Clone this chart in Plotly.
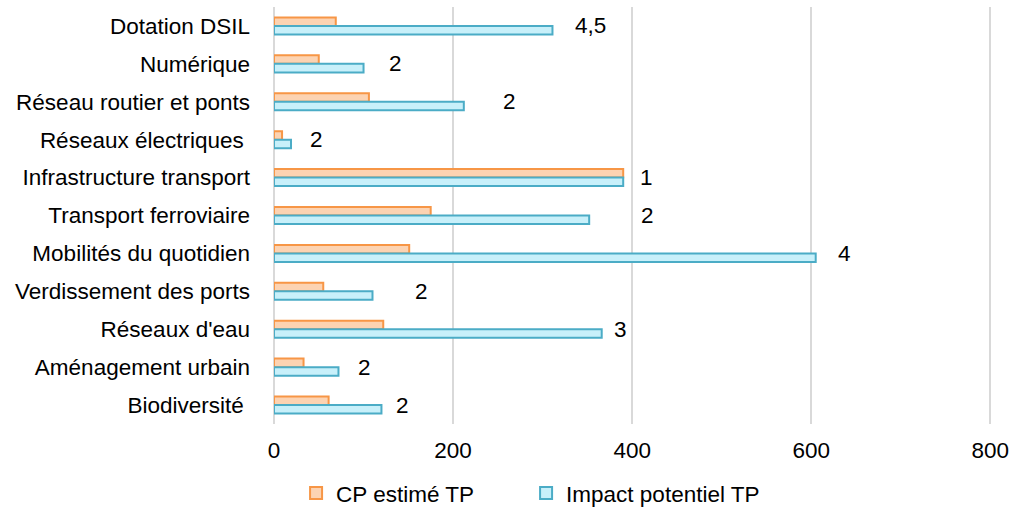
import plotly.graph_objects as go

categories = ["Dotation DSIL", "Numérique", "Réseau routier et ponts", "Réseaux électriques\u00a0",
              "Infrastructure transport", "Transport ferroviaire", "Mobilités du quotidien",
              "Verdissement des ports", "Réseaux d'eau", "Aménagement urbain", "Biodiversité\u00a0"]
cp_estime = [69, 50, 106, 9, 390, 175, 151, 55, 122, 33, 61]
impact_potentiel = [311, 100, 212, 19, 390, 352, 605, 110, 366, 72, 120]
label_text = ["4,5", "2", "2", "2", "1", "2", "4", "2", "3", "2", "2"]
label_x = [353, 136, 263, 48, 416, 417, 637, 165, 387, 101, 144]
x_ticks = [0, 200, 400, 600, 800]

FONT = "Liberation Sans"
FS = 22.5

fig = go.Figure()
fig.add_trace(go.Bar(y=categories, x=cp_estime, orientation="h", name="CP estimé TP",
                     legend="legend",
                     marker=dict(color="#FCD3B2", line=dict(color="#F79646", width=2))))
fig.add_trace(go.Bar(y=categories, x=impact_potentiel, orientation="h", name="Impact potentiel TP",
                     legend="legend2",
                     marker=dict(color="#C8F0FA", line=dict(color="#4BACC6", width=2))))

for c, t, lx in zip(categories, label_text, label_x):
    fig.add_annotation(x=lx, y=c, text=t, showarrow=False, xanchor="center", yanchor="middle",
                       font=dict(family=FONT, size=FS, color="#000000"))

leg_common = dict(orientation="h", y=-0.1665, xanchor="left", yanchor="middle",
                  bgcolor="rgba(0,0,0,0)",
                  font=dict(family=FONT, size=FS, color="#000000"))

fig.update_layout(
    width=1015, height=509,
    margin=dict(l=274, r=22.3, t=7, b=84.5, autoexpand=False),
    paper_bgcolor="white", plot_bgcolor="white",
    barmode="group", bargap=0.55, bargroupgap=0,
    font=dict(family=FONT, size=FS, color="#000000"),
    showlegend=True,
    legend=dict(x=0.0307, **leg_common),
    legend2=dict(x=0.3506, **leg_common),
)
fig.update_xaxes(range=[0, 803], tickvals=x_ticks, ticktext=[str(v) for v in x_ticks],
                 showgrid=True, gridcolor="#D9D9D9", gridwidth=2, zeroline=True,
                 zerolinecolor="#D9D9D9", zerolinewidth=2, showline=False, automargin=False,
                 ticks="", ticklabelstandoff=10, tickfont=dict(size=FS))
fig.update_yaxes(autorange="reversed", showgrid=False, showline=False, ticks="", automargin=False,
                 ticklabelstandoff=23, tickfont=dict(size=FS))

fig.write_html("out.html", config={"displayModeBar": False},
               post_script="document.body.style.margin='0';")
